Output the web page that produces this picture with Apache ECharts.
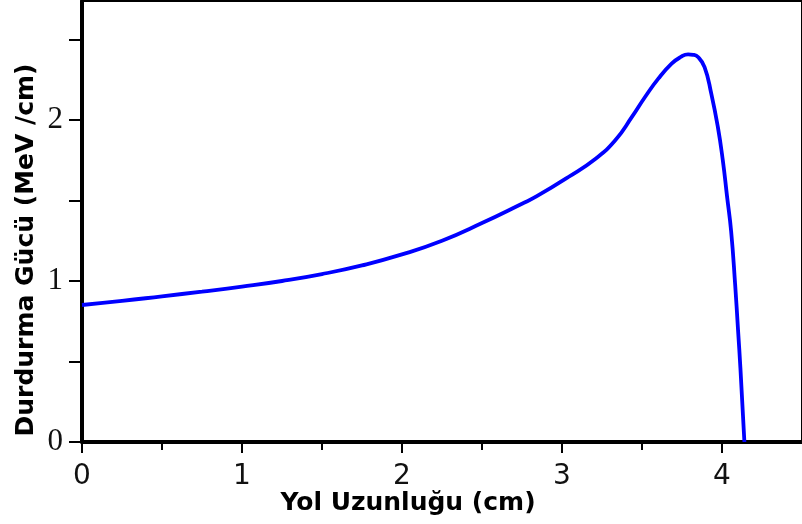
<!DOCTYPE html>
<html>
<head>
<meta charset="utf-8">
<script src="https://cdn.jsdelivr.net/npm/echarts@6/dist/echarts.min.js"></script>
<style>html,body{margin:0;padding:0;background:#fff}#c{width:802px;height:524px}</style>
</head>
<body>
<div id="c"></div>
<script>
const pathLength = [0, 0.25, 0.5, 0.75, 1.0, 1.25, 1.5, 1.75, 2.0, 2.25, 2.5, 2.75, 2.84, 3.04, 3.21, 3.333, 3.437, 3.519, 3.602, 3.685, 3.74, 3.788, 3.82, 3.85, 3.891, 3.933, 3.974, 4.005, 4.032, 4.057, 4.082, 4.10, 4.115, 4.14];
const stoppingPower = [0.851, 0.876, 0.905, 0.934, 0.965, 1.00, 1.043, 1.097, 1.165, 1.25, 1.36, 1.48, 1.525, 1.646, 1.76, 1.874, 2.019, 2.143, 2.257, 2.35, 2.39, 2.408, 2.405, 2.391, 2.329, 2.164, 1.957, 1.75, 1.522, 1.31, 0.98, 0.70, 0.46, 0.0];
const xLabelValues = [0, 1, 2, 3, 4];
const xMinorTickValues = [0.5, 1.5, 2.5, 3.5];
const yLabelValues = [0, 1, 2];
const yTickValues = [0, 0.5, 1, 1.5, 2, 2.5];
const xTitle = 'Yol Uzunluğu (cm)';
const yTitle = 'Durdurma Gücü (MeV /cm)';

const chart = echarts.init(document.getElementById('c'), null, {renderer: 'canvas'});
const data = pathLength.map((x, i) => [x, stoppingPower[i]]);
const baseX = {
  type: 'value', min: 0, max: 4.5, position: 'bottom',
  splitLine: {show: false}
};
chart.setOption({
  animation: false,
  backgroundColor: '#fff',
  grid: {left: 82, top: 1, width: 725, height: 441, show: true, borderColor: '#000', borderWidth: 2, backgroundColor: 'transparent'},
  xAxis: [
    Object.assign({}, baseX, {
      axisLine: {show: true, lineStyle: {color: '#000', width: 4}},
      axisTick: {show: true, inside: false, length: 11, lineStyle: {color: '#000', width: 2}, customValues: xLabelValues},
      axisLabel: {show: true, customValues: xLabelValues, margin: 21, color: '#111', fontFamily: 'DejaVu Sans', fontSize: 28}
    }),
    Object.assign({}, baseX, {
      axisLine: {show: false},
      axisTick: {show: true, inside: false, length: 8, lineStyle: {color: '#000', width: 2}, customValues: xMinorTickValues},
      axisLabel: {show: false}
    })
  ],
  yAxis: {
    type: 'value', min: 0, max: 441 / 161,
    splitLine: {show: false},
    axisLine: {show: true, lineStyle: {color: '#000', width: 4}},
    axisTick: {show: true, inside: false, length: 13, lineStyle: {color: '#000', width: 2}, customValues: yTickValues},
    axisLabel: {show: true, customValues: yLabelValues, margin: 19, color: '#111', fontFamily: 'Liberation Serif', fontSize: 31}
  },
  series: [{
    type: 'line', data: data, xAxisIndex: 0, showSymbol: false, symbol: 'none',
    smooth: 0.5,
    lineStyle: {color: '#0000ff', width: 3.8}
  }],
  graphic: [
    {type: 'text', x: 408, y: 503, style: {text: xTitle, fontFamily: 'DejaVu Sans', fontWeight: 'bold', fontSize: 25, fill: '#000', align: 'center', verticalAlign: 'middle'}},
    {type: 'text', x: 26, y: 250, rotation: Math.PI / 2, style: {text: yTitle, fontFamily: 'DejaVu Sans', fontWeight: 'bold', fontSize: 25, fill: '#000', align: 'center', verticalAlign: 'middle'}}
  ]
});
</script>
</body>
</html>
